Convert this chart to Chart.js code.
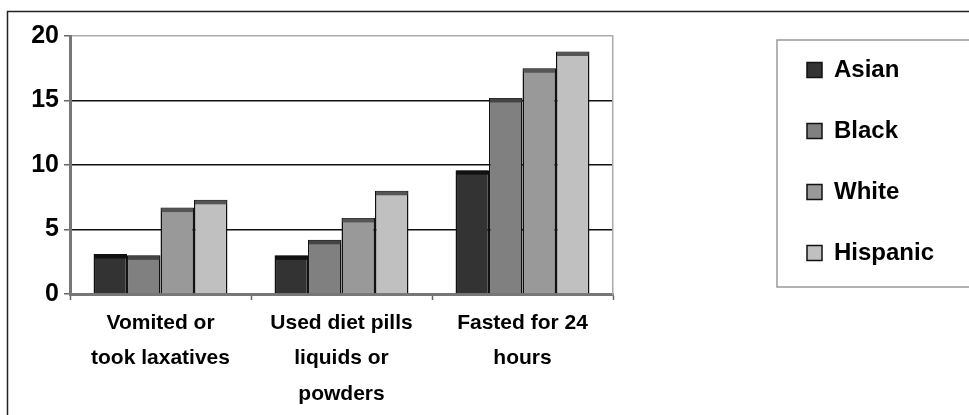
<!DOCTYPE html>
<html>
<head>
<meta charset="utf-8">
<script src="https://cdn.jsdelivr.net/npm/chart.js"></script>
<style>
  html, body { margin: 0; padding: 0; background: #fff; overflow: hidden; }
  #wrap { position: relative; width: 969px; height: 415px; }
</style>
</head>
<body>
<div id="wrap"><canvas id="chart"></canvas></div>
<script>
const categories = [
  ["Vomited or", "took laxatives"],
  ["Used diet pills", "liquids or", "powders"],
  ["Fasted for 24", "hours"]
];
const asian = [3.1, 3.0, 9.6];
const black = [3.0, 4.2, 15.2];
const white = [6.7, 5.9, 17.5];
const hispanic = [7.3, 8.0, 18.8];
const yTicks = [0, 5, 10, 15, 20];

const barColors = ['#333333', '#808080', '#999999', '#c0c0c0'];
const capColors = ['#111111', '#444444', '#555555', '#555555'];

// frame round the whole picture + legend box
const framePlugin = {
  id: 'frame',
  beforeDraw(chart) {
    const ctx = chart.ctx;
    ctx.save();
    ctx.strokeStyle = '#222';
    ctx.lineWidth = 1.5;
    ctx.strokeRect(7.5, 11.5, 1200, 800);
    ctx.restore();
  },
  afterDraw(chart) {
    const lg = chart.legend;
    const area = chart.chartArea;
    if (!lg) return;
    const ctx = chart.ctx;
    ctx.save();
    ctx.strokeStyle = '#999';
    ctx.lineWidth = 1.5;
    ctx.strokeRect(lg.left + 7, area.top + 4, 400, area.bottom - area.top - 11);
    ctx.restore();
  }
};

// darker top band on each bar (the old 3D look)
const capPlugin = {
  id: 'caps',
  afterDatasetsDraw(chart) {
    const ctx = chart.ctx;
    ctx.save();
    chart.data.datasets.forEach((ds, i) => {
      const meta = chart.getDatasetMeta(i);
      meta.data.forEach(bar => {
        ctx.fillStyle = capColors[i];
        ctx.fillRect(bar.x - bar.width / 2 + 1, bar.y + 0.5, bar.width - 2, 4);
      });
    });
    ctx.restore();
  }
};

// fixed legend width, and lift it a little so the items line up
const legendPlacePlugin = {
  id: 'legendPlace',
  beforeLayout(chart) {
    const lg = chart.legend;
    if (lg && !lg._fixed) {
      const fit = lg.fit.bind(lg);
      lg.fit = function () { fit(); this.width = 199; };
      lg._fixed = true;
    }
  },
  afterLayout(chart) {
    const lg = chart.legend;
    if (!lg) return;
    lg.top = chart.chartArea.top - 15;
  }
};

const font = "'Liberation Sans', Arial, sans-serif";

new Chart(document.getElementById('chart'), {
  type: 'bar',
  data: {
    labels: categories,
    datasets: [
      { label: 'Asian', data: asian },
      { label: 'Black', data: black },
      { label: 'White', data: white },
      { label: 'Hispanic', data: hispanic }
    ].map((d, i) => Object.assign(d, {
      backgroundColor: barColors[i],
      borderColor: '#111',
      borderWidth: 1.5,
      categoryPercentage: 0.74,
      barPercentage: 1
    }))
  },
  options: {
    responsive: true,
    maintainAspectRatio: false,
    animation: false,
    devicePixelRatio: 1,
    layout: { padding: { left: 0, top: 36, right: 0, bottom: 0 } },
    plugins: {
      title: { display: false },
      tooltip: { enabled: false },
      legend: {
        position: 'right',
        align: 'start',
        labels: {
          font: { family: font, size: 24, weight: 'bold' },
          color: '#000',
          boxWidth: 15,
          boxHeight: 15,
          padding: 37
        }
      }
    },
    scales: {
      x: {
        grid: {
          drawOnChartArea: false,
          drawTicks: true,
          tickLength: 6,
          tickColor: '#666',
          tickWidth: 1.5
        },
        border: { color: '#777', width: 3 },
        ticks: {
          font: { family: font, size: 21, weight: 'bold', lineHeight: 1.7 },
          color: '#000',
          padding: 5,
          maxRotation: 0,
          autoSkip: false
        },
        afterFit: s => { s.height = 121; }
      },
      y: {
        min: 0,
        max: 20,
        afterBuildTicks: s => { s.ticks = yTicks.map(v => ({ value: v })); },
        grid: {
          color: c => (c.tick && c.tick.value === 20) ? '#aaa' : '#111',
          lineWidth: 1.5,
          tickColor: '#666',
          tickLength: 6
        },
        border: { color: '#777', width: 3 },
        ticks: {
          font: { family: font, size: 25, weight: 'bold' },
          color: '#000',
          padding: 5
        },
        afterFit: s => { s.width = 70; }
      },
      gap: {
        position: 'right',
        display: true,
        grid: { display: false, drawTicks: false },
        ticks: { display: false },
        border: { color: '#aaa', width: 1.5 },
        afterFit: s => { s.width = 157; }
      }
    }
  },
  plugins: [framePlugin, capPlugin, legendPlacePlugin]
});
</script>
</body>
</html>
